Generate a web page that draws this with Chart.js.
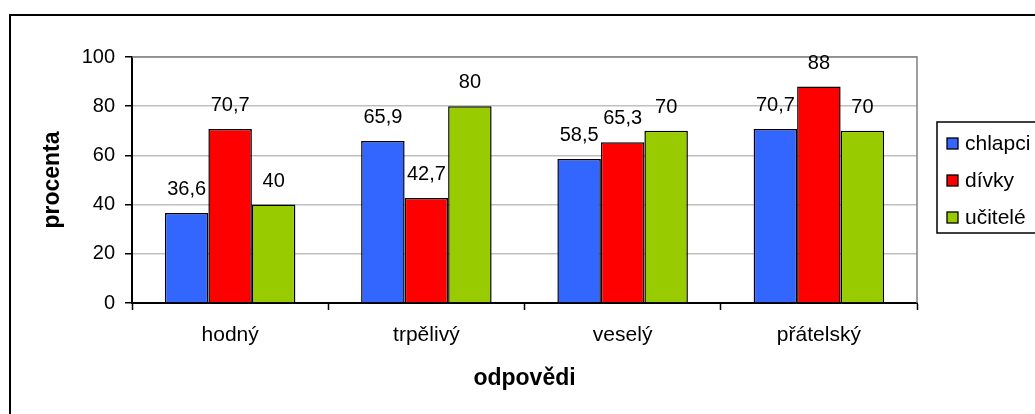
<!DOCTYPE html>
<html>
<head>
<meta charset="utf-8">
<script src="https://cdn.jsdelivr.net/npm/chart.js@4"></script>
<style>
    html, body { margin: 0; padding: 0; background: #fff; }
    #wrap { width: 1035px; height: 414px; }
</style>
</head>
<body>
<div id="wrap"><canvas id="chart" width="1035" height="414"></canvas></div>
<script>
const categories = ['hodný', 'trpělivý', 'veselý', 'přátelský'];
const chlapci = [36.6, 65.9, 58.5, 70.7];
const divky = [70.7, 42.7, 65.3, 88];
const ucitele = [40, 80, 70, 70];
const seriesNames = ['chlapci', 'dívky', 'učitelé'];
const seriesColors = ['#3366ff', '#ff0000', '#99cc00'];

const FONT = "'Liberation Sans', Arial, sans-serif";

// Excel-like frame, plot border, value labels and legend box
const decorations = {
    id: 'decorations',
    beforeDraw(chart) {
        const ctx = chart.ctx;
        ctx.save();
        ctx.fillStyle = '#fff';
        ctx.fillRect(0, 0, chart.width, chart.height);
        ctx.strokeStyle = '#000';
        ctx.lineWidth = 2;
        ctx.strokeRect(10, 15, chart.width + 20, chart.height + 20);
        ctx.restore();
    },
    beforeDatasetsDraw(chart) {
        const { ctx, chartArea } = chart;
        ctx.save();
        ctx.strokeStyle = '#808080';
        ctx.lineWidth = 1.5;
        ctx.beginPath();
        ctx.moveTo(chartArea.left, chartArea.top);
        ctx.lineTo(chartArea.right, chartArea.top);
        ctx.lineTo(chartArea.right, chartArea.bottom);
        ctx.stroke();
        ctx.restore();
    },
    afterDatasetsDraw(chart) {
        const ctx = chart.ctx;
        ctx.save();
        ctx.font = '20px ' + FONT;
        ctx.fillStyle = '#000';
        ctx.textAlign = 'center';
        ctx.textBaseline = 'alphabetic';
        chart.data.datasets.forEach((ds, i) => {
            chart.getDatasetMeta(i).data.forEach((bar, j) => {
                const txt = String(ds.data[j]).replace('.', ',');
                ctx.fillText(txt, bar.x, bar.y - 18);
            });
        });

        // legend
        ctx.font = '21px ' + FONT;
        ctx.strokeStyle = '#000';
        ctx.lineWidth = 1.5;
        ctx.strokeRect(937, 122, 140, 111);
        ctx.textAlign = 'left';
        ctx.textBaseline = 'middle';
        chart.data.datasets.forEach((ds, i) => {
            const cy = 144 + i * 37;
            ctx.fillStyle = ds.backgroundColor;
            ctx.fillRect(947, cy - 6, 11, 11);
            ctx.lineWidth = 1.3;
            ctx.strokeRect(947, cy - 6, 11, 11);
            ctx.fillStyle = '#000';
            ctx.fillText(ds.label, 965, cy);
        });
        ctx.restore();
    }
};

new Chart(document.getElementById('chart'), {
    type: 'bar',
    data: {
        labels: categories,
        datasets: [
            { label: seriesNames[0], data: chlapci, backgroundColor: seriesColors[0] },
            { label: seriesNames[1], data: divky, backgroundColor: seriesColors[1] },
            { label: seriesNames[2], data: ucitele, backgroundColor: seriesColors[2] }
        ].map(d => Object.assign(d, {
            borderColor: '#000',
            borderWidth: 1.5,
            categoryPercentage: 0.665,
            barPercentage: 1
        }))
    },
    options: {
        responsive: false,
        animation: false,
        layout: { padding: { top: 57, right: 118, left: 0, bottom: 0 } },
        plugins: {
            legend: { display: false },
            tooltip: { enabled: false }
        },
        scales: {
            x: {
                afterFit(scale) { scale.height = 111; },
                grid: { drawOnChartArea: false, tickColor: '#000', tickLength: 7, tickWidth: 1.5 },
                border: { color: '#000', width: 2 },
                ticks: { color: '#000', font: { family: FONT, size: 21 }, padding: 13 },
                title: {
                    display: true, text: 'odpovědi', color: '#000',
                    font: { family: FONT, size: 23, weight: 'bold' },
                    padding: { bottom: 22 }
                }
            },
            y: {
                min: 0, max: 100,
                afterFit(scale) { scale.width = 132; },
                grid: { color: '#c0c0c0', lineWidth: 1.5, tickColor: '#000', tickLength: 7, tickWidth: 1.5 },
                border: { color: '#000', width: 2 },
                ticks: { stepSize: 20, color: '#000', font: { family: FONT, size: 20 }, padding: 10 },
                title: {
                    display: true, text: 'procenta', color: '#000',
                    font: { family: FONT, size: 23, weight: 'bold' },
                    padding: { top: 39 }
                }
            }
        }
    },
    plugins: [decorations]
});
</script>
</body>
</html>
